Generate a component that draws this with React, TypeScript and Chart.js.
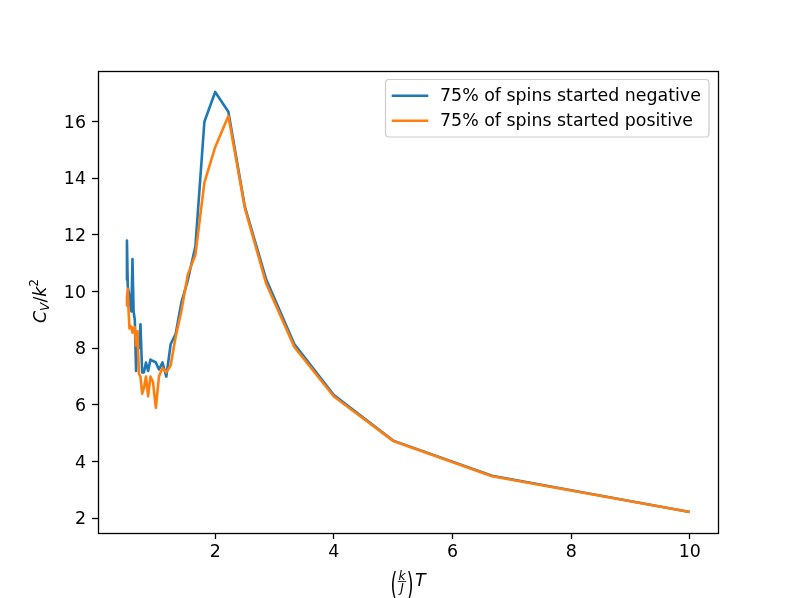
import React, { useEffect, useRef } from 'react';
import { Chart, registerables } from 'chart.js';

Chart.register(...registerables);

// Temperature values (k/J)T
const temperatures = [
  0.5, 0.5128, 0.5263, 0.5405, 0.5556, 0.5714, 0.5882, 0.6061, 0.625, 0.6452,
  0.6667, 0.6897, 0.7143, 0.7407, 0.7692, 0.8, 0.8333, 0.8696, 0.9091, 0.9524,
  1.0, 1.0526, 1.1111, 1.1765, 1.25, 1.3333, 1.4286, 1.5385, 1.6667, 1.8182,
  2.0, 2.2222, 2.5, 2.8571, 3.3333, 4.0, 5.0, 6.6667, 10.0,
];

// Heat capacity, 75% of spins started negative
const cvNegative = [
  10.4, 11.8, 10.2, 10.0, 9.85, 9.5, 9.3, 11.15, 9.3, 9.0,
  7.2, 8.3, 8.0, 8.85, 7.15, 7.15, 7.5, 7.2, 7.6, 7.55,
  7.5, 7.25, 7.5, 7.0, 8.15, 8.5, 9.6, 10.4, 11.6, 16.0,
  17.05, 16.35, 13.0, 10.45, 8.15, 6.35, 4.74, 3.5, 2.22,
];

// Heat capacity, 75% of spins started positive
const cvPositive = [
  9.5, 9.8, 10.1, 9.3, 8.7, 8.8, 8.75, 8.55, 8.7, 8.75,
  8.1, 8.6, 7.1, 7.0, 6.4, 6.6, 7.0, 6.3, 7.0, 6.8,
  5.9, 7.0, 7.3, 7.15, 7.4, 8.4, 9.3, 10.6, 11.3, 13.85,
  15.1, 16.2, 12.95, 10.3, 8.05, 6.3, 4.73, 3.48, 2.22,
];

const xTickValues = [2, 4, 6, 8, 10];
const yTickValues = [2, 4, 6, 8, 10, 12, 14, 16];
const seriesLabels = ['75% of spins started negative', '75% of spins started positive'];
const seriesColors = ['#1f77b4', '#ff7f0e'];

const FONT = "'DejaVu Sans', sans-serif";
const FS = 17.4;
const FS_SMALL = 12.2;

const decorPlugin = {
  id: 'decor',
  afterDraw(chart: any) {
    const { ctx, chartArea: a } = chart;
    ctx.save();

    // axes frame (all four spines)
    ctx.strokeStyle = '#000';
    ctx.lineWidth = 1.3;
    ctx.strokeRect(a.left + 0.5, a.top + 0.5, a.right - a.left, a.bottom - a.top);

    // legend
    const lx = 385.5, ly = 79.5, lw = 323.5, lh = 57.5;
    ctx.beginPath();
    if (ctx.roundRect) ctx.roundRect(lx, ly, lw, lh, 3.4);
    else ctx.rect(lx, ly, lw, lh);
    ctx.fillStyle = 'rgba(255,255,255,0.8)';
    ctx.fill();
    ctx.strokeStyle = '#cccccc';
    ctx.lineWidth = 1.2;
    ctx.stroke();
    chart.data.datasets.forEach((ds: any, i: number) => {
      const yy = 95.7 + i * 25;
      ctx.beginPath();
      ctx.moveTo(391.7, yy);
      ctx.lineTo(428.3, yy);
      ctx.strokeStyle = ds.borderColor;
      ctx.lineWidth = 2.6;
      ctx.lineCap = 'butt';
      ctx.stroke();
      ctx.fillStyle = '#000';
      ctx.font = `${FS}px ${FONT}`;
      ctx.textAlign = 'left';
      ctx.textBaseline = 'alphabetic';
      ctx.fillText(ds.label, 440, yy + 5.6);
    });

    // y-axis label: C_V / k^2 (rotated)
    ctx.fillStyle = '#000';
    ctx.textAlign = 'left';
    ctx.textBaseline = 'alphabetic';
    const yParts = [
      { t: 'C', f: `italic ${FS}px ${FONT}`, dv: 0 },
      { t: 'V', f: `italic ${FS_SMALL}px ${FONT}`, dv: 3.6 },
      { t: '/', f: `${FS}px ${FONT}`, dv: 0 },
      { t: 'k', f: `italic ${FS}px ${FONT}`, dv: 0 },
      { t: '2', f: `${FS_SMALL}px ${FONT}`, dv: -7.6 },
    ];
    let total = 0;
    const widths = yParts.map((p) => {
      ctx.font = p.f;
      const w = ctx.measureText(p.t).width;
      total += w;
      return w;
    });
    ctx.save();
    ctx.translate(45.5, 301);
    ctx.rotate(-Math.PI / 2);
    let u = -total / 2;
    yParts.forEach((p, i) => {
      ctx.font = p.f;
      ctx.fillText(p.t, u, p.dv);
      u += widths[i];
    });
    ctx.restore();

    // x-axis label: (k/J) T
    const cx = (a.left + a.right) / 2;
    ctx.font = `${FS}px ${FONT}`;
    const wParen = ctx.measureText('(').width;
    ctx.font = `italic ${FS_SMALL}px ${FONT}`;
    const wk = ctx.measureText('k').width;
    const wJ = ctx.measureText('J').width;
    const wFrac = Math.max(wk, wJ) + 2.4;
    ctx.font = `italic ${FS}px ${FONT}`;
    const wT = ctx.measureText('T').width;
    const gap = 1.5;
    const totalX = wParen + wFrac + wParen + gap + wT;
    let x0 = cx - totalX / 2;
    const parenScale = 1.85;
    const parenBase = 595.0;
    ctx.font = `${FS}px ${FONT}`;
    ctx.save();
    ctx.translate(x0, parenBase);
    ctx.scale(1, parenScale);
    ctx.fillText('(', 0, 0);
    ctx.restore();
    x0 += wParen;
    const barY = 581.5;
    ctx.font = `italic ${FS_SMALL}px ${FONT}`;
    ctx.textAlign = 'center';
    ctx.fillText('k', x0 + wFrac / 2, barY - 2);
    ctx.fillText('J', x0 + wFrac / 2, barY + 10.5);
    ctx.beginPath();
    ctx.moveTo(x0 + 0.5, barY);
    ctx.lineTo(x0 + wFrac - 0.5, barY);
    ctx.strokeStyle = '#000';
    ctx.lineWidth = 0.8;
    ctx.stroke();
    ctx.textAlign = 'left';
    x0 += wFrac;
    ctx.font = `${FS}px ${FONT}`;
    ctx.save();
    ctx.translate(x0, parenBase);
    ctx.scale(1, parenScale);
    ctx.fillText(')', 0, 0);
    ctx.restore();
    x0 += wParen + gap;
    ctx.font = `italic ${FS}px ${FONT}`;
    ctx.fillText('T', x0, 586);

    ctx.restore();
  },
};

export default function App() {
  const ref = useRef<HTMLCanvasElement | null>(null);

  useEffect(() => {
    const canvas = ref.current;
    if (!canvas) return;
    const makeData = (vals: number[]) => temperatures.map((t, i) => ({ x: t, y: vals[i] }));
    const chart = new Chart(canvas, {
      type: 'line',
      data: {
        datasets: [
          {
            label: seriesLabels[0],
            data: makeData(cvNegative),
            borderColor: seriesColors[0],
            backgroundColor: seriesColors[0],
            borderWidth: 2.6,
            pointRadius: 0,
            fill: false,
            tension: 0,
            borderJoinStyle: 'round',
            order: 2,
          },
          {
            label: seriesLabels[1],
            data: makeData(cvPositive),
            borderColor: seriesColors[1],
            backgroundColor: seriesColors[1],
            borderWidth: 2.6,
            pointRadius: 0,
            fill: false,
            tension: 0,
            borderJoinStyle: 'round',
            order: 1,
          },
        ],
      },
      options: {
        responsive: false,
        animation: false,
        layout: { padding: { left: 0, right: 74, top: 71, bottom: 0 } },
        plugins: {
          legend: { display: false },
          tooltip: { enabled: false },
          title: { display: false },
        },
        scales: {
          x: {
            type: 'linear',
            position: 'bottom',
            min: 0.025,
            max: 10.475,
            afterBuildTicks: (ax: any) => {
              ax.ticks = xTickValues.map((v) => ({ value: v }));
            },
            afterFit: (ax: any) => {
              ax.height = 65;
            },
            grid: {
              drawOnChartArea: false,
              drawTicks: true,
              tickLength: 6,
              tickWidth: 1.3,
              tickColor: '#000',
              color: '#000',
            },
            border: { display: false },
            ticks: {
              color: '#000',
              font: { family: FONT, size: FS },
              padding: 3,
              maxRotation: 0,
              autoSkip: false,
            },
          },
          y: {
            type: 'linear',
            position: 'left',
            min: 1.4785,
            max: 17.79,
            afterBuildTicks: (ax: any) => {
              ax.ticks = yTickValues.map((v) => ({ value: v }));
            },
            afterFit: (ax: any) => {
              ax.width = 98;
            },
            grid: {
              drawOnChartArea: false,
              drawTicks: true,
              tickLength: 6,
              tickWidth: 1.3,
              tickColor: '#000',
              color: '#000',
            },
            border: { display: false },
            ticks: {
              color: '#000',
              font: { family: FONT, size: FS },
              padding: 6,
              labelOffset: 1.5,
              autoSkip: false,
            },
          },
        },
      } as any,
      plugins: [decorPlugin],
    });
    return () => chart.destroy();
  }, []);

  return (
    <div style={{ position: 'absolute', left: 0, top: 0, width: 792, height: 598, background: '#fff' }}>
      <canvas ref={ref} width={792} height={598} style={{ display: 'block', width: 792, height: 598 }} />
    </div>
  );
}
